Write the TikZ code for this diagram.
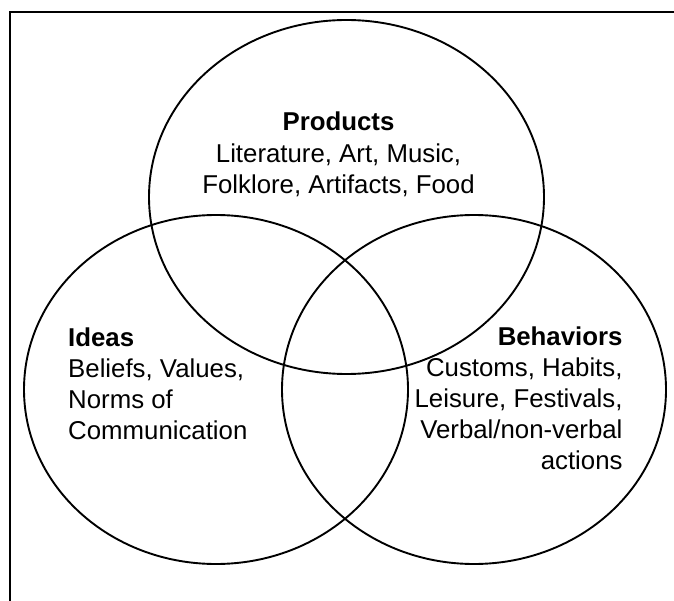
\documentclass[tikz,border=0pt]{standalone}
\usepackage{fontspec}
\setmainfont{Liberation Sans}
\usetikzlibrary{shapes.geometric}
\begin{document}
\begin{tikzpicture}[x=1pt,y=-1pt,
  circ/.style={draw, ellipse, line width=1.9pt, inner sep=0pt, outer sep=0pt},
  lbl/.style={font=\fontsize{25.8}{31}\selectfont, inner sep=0pt},
  frame/.style={line width=2pt}]
\useasboundingbox (0,0) rectangle (674,601);
\node[circ, minimum width=395pt, minimum height=354pt] (prod) at (346.5,197) {};
\node[circ, minimum width=384pt, minimum height=349pt] (ideas) at (216,389.5) {};
\node[circ, minimum width=384pt, minimum height=349pt] (beh) at (474,389.5) {};
\coordinate (fbl) at (10,601);
\coordinate (ftl) at (10,12);
\coordinate (ftr) at (674,12);
\draw[frame] (fbl) -- (ftl) -- (ftr);
\node[lbl, align=center, anchor=base] (prodtext) at (338.5,194)
  {\textbf{Products}\\[1pt]Literature, Art, Music,\\Folklore, Artifacts, Food};
\node[lbl, align=left, anchor=base west] (ideastext) at (68,439)
  {\textbf{Ideas}\\Beliefs, Values,\\Norms of\\Communication};
\node[lbl, align=right, anchor=base east] (behtext) at (622.7,469)
  {\textbf{Behaviors}\\Customs, Habits,\\Leisure, Festivals,\\Verbal/non-verbal\\actions};
\end{tikzpicture}
\end{document}
